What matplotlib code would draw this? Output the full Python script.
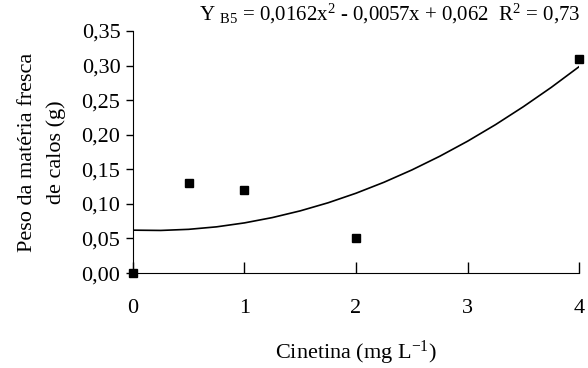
import matplotlib
matplotlib.use('Agg')
from matplotlib import pyplot as plt
from matplotlib.ticker import FuncFormatter, MultipleLocator

# observed points
dose = [0, 0.5, 1, 2, 4]
peso = [0.0, 0.13, 0.12, 0.05, 0.31]

# fitted curve
curva_x = [0, 0.25, 0.5, 0.75, 1, 1.25, 1.5, 1.75, 2, 2.25, 2.5, 2.75, 3, 3.25, 3.5, 3.75, 4]
curva_y = [0.062, 0.0616, 0.0632, 0.0668, 0.0725, 0.0802, 0.0899, 0.1016, 0.1154,
           0.1312, 0.1490, 0.1688, 0.1906, 0.2145, 0.2405, 0.2684, 0.2984]

plt.rcParams['font.family'] = 'Liberation Serif'
plt.rcParams['mathtext.fontset'] = 'custom'
plt.rcParams['mathtext.rm'] = 'Liberation Serif'
plt.rcParams['mathtext.it'] = 'Liberation Serif:italic'

fs = 16

fig = plt.figure(figsize=(5.88, 3.68), dpi=100)
ax = fig.add_axes([0.226, 0.258, 0.759, 0.658])

ax.plot(curva_x, curva_y, color='black', lw=1.2)
ax.plot(dose, peso, 's', color='black', ms=6, clip_on=False, zorder=5)

ax.set_xlim(0, 4)
ax.set_ylim(0, 0.35)
ax.xaxis.set_major_locator(MultipleLocator(1))
ax.yaxis.set_major_locator(MultipleLocator(0.05))
ax.yaxis.set_major_formatter(FuncFormatter(lambda v, p: ('%.2f' % v).replace('.', ',')))
ax.spines['top'].set_visible(False)
ax.spines['right'].set_visible(False)
ax.tick_params(axis='x', direction='in', length=8, width=1, labelsize=fs, pad=19)
ax.tick_params(axis='y', direction='out', length=5, width=1, labelsize=fs, pad=4)

ax.set_xlabel(r'Cinetina (mg L$^{\mathregular{-1}}$)', fontsize=fs, labelpad=15)
ax.set_ylabel('Peso da matéria fresca\nde calos (g)', fontsize=fs, linespacing=1.65)
ax.yaxis.set_label_coords(-0.15, 0.5)

fig.text(0.987, 0.962, r'Y $_{\mathregular{B5}}$ = 0,0162x$^{\mathregular{2}}$ - 0,0057x + 0,062  R$^{\mathregular{2}}$ = 0,73',
         ha='right', va='center', fontsize=15)

plt.savefig('out.png', dpi=100)
